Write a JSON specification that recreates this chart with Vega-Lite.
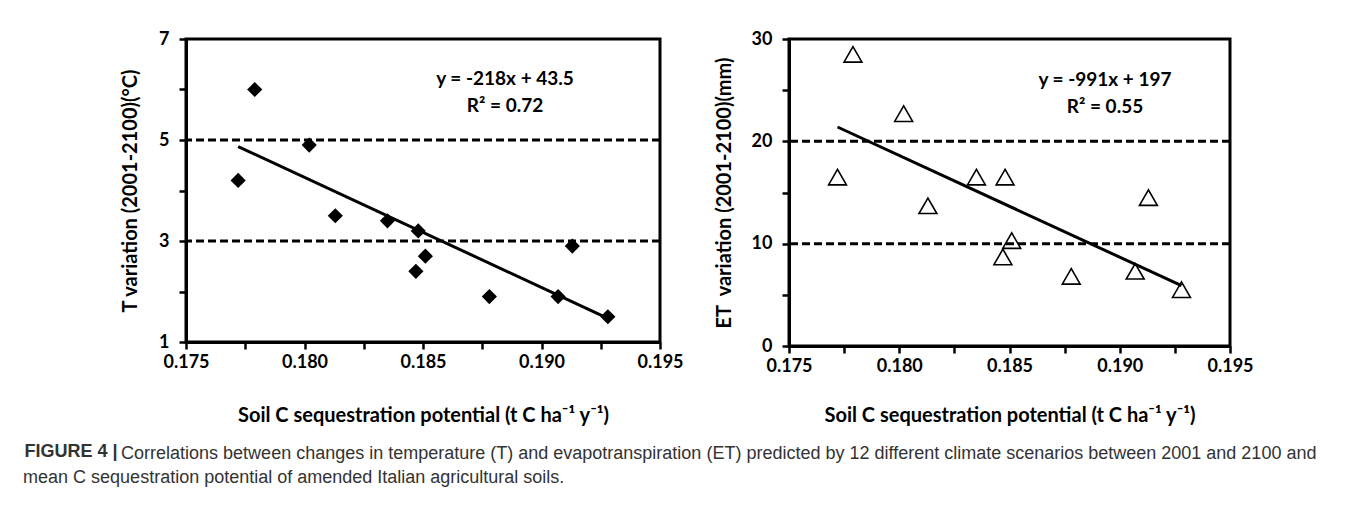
{
  "$schema": "https://vega.github.io/schema/vega-lite/v6.json",
  "background": "white",
  "padding": {"left": 23, "top": 28, "right": 0, "bottom": 0},
  "datasets": {
    "points": [
      {"x": 0.1772, "T": 4.2, "ET": 16.5},
      {"x": 0.1779, "T": 6.0, "ET": 28.5},
      {"x": 0.1802, "T": 4.9, "ET": 22.7},
      {"x": 0.1813, "T": 3.5, "ET": 13.7},
      {"x": 0.1835, "T": 3.4, "ET": 16.5},
      {"x": 0.1848, "T": 3.2, "ET": 16.5},
      {"x": 0.1851, "T": 2.7, "ET": 10.3},
      {"x": 0.1847, "T": 2.4, "ET": 8.7},
      {"x": 0.1878, "T": 1.9, "ET": 6.8},
      {"x": 0.1907, "T": 1.9, "ET": 7.3},
      {"x": 0.1913, "T": 2.9, "ET": 14.5},
      {"x": 0.1928, "T": 1.5, "ET": 5.5}
    ],
    "fitT": [{"x": 0.1772, "y": 4.87}, {"x": 0.1928, "y": 1.47}],
    "fitET": [{"x": 0.1772, "y": 21.4}, {"x": 0.1928, "y": 5.9}],
    "refT": [{"y": 3}, {"y": 5}],
    "refET": [{"y": 10}, {"y": 20}],
    "notesT": [
      {"x": 0.18846, "y": 6.21, "label": "y = -218x + 43.5"},
      {"x": 0.18846, "y": 5.68, "label": "R² = 0.72"}
    ],
    "notesET": [
      {"x": 0.18933, "y": 26.0, "label": "y = -991x + 197"},
      {"x": 0.18933, "y": 23.4, "label": "R² = 0.55"}
    ]
  },
  "title": {
    "text": "mean C sequestration potential of amended Italian agricultural soils.",
    "orient": "bottom",
    "anchor": "start",
    "frame": "bounds",
    "offset": 6,
    "font": "Liberation Sans",
    "fontSize": 18,
    "fontWeight": "normal",
    "color": "#333333"
  },
  "vconcat": [
    {
      "title": {
        "text": "Correlations between changes in temperature (T) and evapotranspiration (ET) predicted by 12 different climate scenarios between 2001 and 2100 and",
        "orient": "bottom",
        "anchor": "start",
        "frame": "bounds",
        "dx": 98,
        "offset": -18,
        "font": "Liberation Sans",
        "fontSize": 18,
        "fontWeight": "normal",
        "color": "#333333"
      },
      "spacing": 27,
      "hconcat": [
        {
          "width": 474,
          "height": 303,
          "title": {
            "text": "FIGURE 4 |",
            "orient": "bottom",
            "anchor": "start",
            "frame": "bounds",
            "dx": -96,
            "offset": 18,
            "font": "Liberation Sans",
            "fontSize": 18,
            "fontWeight": "bold",
            "color": "#333333"
          },
          "layer": [
            {
              "data": {"name": "refT"},
              "mark": {"type": "rule", "strokeDash": [8, 4], "strokeWidth": 3, "color": "black"},
              "encoding": {
                "y": {"field": "y", "type": "quantitative", "title": "T variation (2001-2100)(°C)",
                      "scale": {"domain": [1, 7], "nice": false, "zero": false},
                      "axis": {"values": [1, 2, 3, 4, 5, 6, 7], "labelExpr": "datum.value % 2 == 1 ? datum.label : ''", "titlePadding": 18}}
              }
            },
            {
              "data": {"name": "fitT"},
              "mark": {"type": "line", "color": "black", "strokeWidth": 3},
              "encoding": {
                "x": {"field": "x", "type": "quantitative", "title": "Soil C sequestration potential (t C ha⁻¹ y⁻¹)",
                      "scale": {"domain": [0.175, 0.195], "nice": false, "zero": false},
                      "axis": {"values": [0.175, 0.1775, 0.18, 0.1825, 0.185, 0.1875, 0.19, 0.1925, 0.195], "format": ".3f", "titlePadding": 34,
                               "labelExpr": "indexof(['0.175','0.180','0.185','0.190','0.195'], datum.label) >= 0 ? datum.label : ''"}},
                "y": {"field": "y", "type": "quantitative", "title": "T variation (2001-2100)(°C)"}
              }
            },
            {
              "data": {"name": "points"},
              "mark": {"type": "point", "shape": "diamond", "filled": true, "color": "black", "size": 230, "opacity": 1},
              "encoding": {
                "x": {"field": "x", "type": "quantitative", "title": "Soil C sequestration potential (t C ha⁻¹ y⁻¹)"},
                "y": {"field": "T", "type": "quantitative", "title": "T variation (2001-2100)(°C)"}
              }
            },
            {
              "data": {"name": "notesT"},
              "mark": {"type": "text", "font": "Lato", "fontWeight": "bold", "fontSize": 19, "color": "black", "align": "center", "baseline": "middle"},
              "encoding": {
                "x": {"field": "x", "type": "quantitative", "title": "Soil C sequestration potential (t C ha⁻¹ y⁻¹)"},
                "y": {"field": "y", "type": "quantitative", "title": "T variation (2001-2100)(°C)"},
                "text": {"field": "label"}
              }
            }
          ]
        },
        {
          "width": 441,
          "height": 307,
          "layer": [
            {
              "data": {"name": "refET"},
              "mark": {"type": "rule", "strokeDash": [8, 4], "strokeWidth": 3, "color": "black"},
              "encoding": {
                "y": {"field": "y", "type": "quantitative", "title": "ET\u00a0 variation (2001-2100)(mm)",
                      "scale": {"domain": [0, 30], "nice": false, "zero": false},
                      "axis": {"values": [0, 5, 10, 15, 20, 25, 30], "labelExpr": "datum.value % 10 == 0 ? datum.label : ''", "titlePadding": 17}}
              }
            },
            {
              "data": {"name": "fitET"},
              "mark": {"type": "line", "color": "black", "strokeWidth": 3},
              "encoding": {
                "x": {"field": "x", "type": "quantitative", "title": "Soil C sequestration potential (t C ha⁻¹ y⁻¹)",
                      "scale": {"domain": [0.175, 0.195], "nice": false, "zero": false},
                      "axis": {"values": [0.175, 0.1775, 0.18, 0.1825, 0.185, 0.1875, 0.19, 0.1925, 0.195], "format": ".3f", "titlePadding": 30,
                               "labelExpr": "indexof(['0.175','0.180','0.185','0.190','0.195'], datum.label) >= 0 ? datum.label : ''"}},
                "y": {"field": "y", "type": "quantitative", "title": "ET\u00a0 variation (2001-2100)(mm)"}
              }
            },
            {
              "data": {"name": "points"},
              "mark": {"type": "point", "shape": "triangle-up", "filled": false, "color": "black", "size": 320, "strokeWidth": 1.6, "opacity": 1},
              "encoding": {
                "x": {"field": "x", "type": "quantitative", "title": "Soil C sequestration potential (t C ha⁻¹ y⁻¹)"},
                "y": {"field": "ET", "type": "quantitative", "title": "ET\u00a0 variation (2001-2100)(mm)"}
              }
            },
            {
              "data": {"name": "notesET"},
              "mark": {"type": "text", "font": "Lato", "fontWeight": "bold", "fontSize": 19, "color": "black", "align": "center", "baseline": "middle"},
              "encoding": {
                "x": {"field": "x", "type": "quantitative", "title": "Soil C sequestration potential (t C ha⁻¹ y⁻¹)"},
                "y": {"field": "y", "type": "quantitative", "title": "ET\u00a0 variation (2001-2100)(mm)"},
                "text": {"field": "label"}
              }
            }
          ]
        }
      ]
    }
  ],
  "config": {
    "view": {"stroke": "black", "strokeWidth": 3},
    "axis": {
      "grid": false,
      "domainColor": "black",
      "domainWidth": 3,
      "tickColor": "black",
      "tickWidth": 2.5,
      "tickSize": 7,
      "labelFont": "Lato",
      "labelFontWeight": "bold",
      "labelFontSize": 18,
      "labelColor": "black",
      "labelFlush": false,
      "labelOverlap": false,
      "titleFont": "Lato",
      "titleFontWeight": "bold",
      "titleFontSize": 20,
      "titleColor": "black"
    },
    "axisX": {"labelPadding": 4},
    "axisY": {"labelPadding": 10}
  }
}
